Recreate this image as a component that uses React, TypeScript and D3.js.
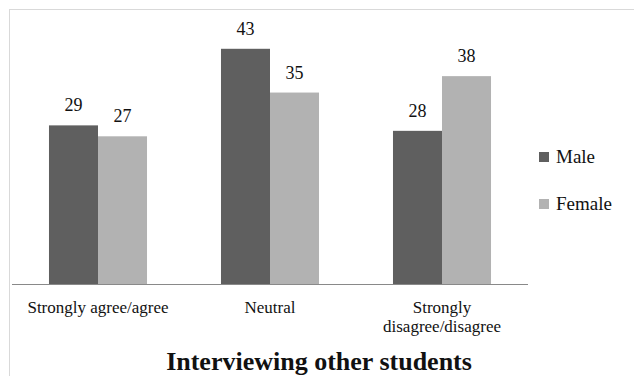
import * as d3 from "d3";

const WIDTH = 634;
const HEIGHT = 376;
const MARGIN = { top: 10.5, right: 106, bottom: 92, left: 12 };

const categories = ["Strongly agree/agree", "Neutral", "Strongly disagree/disagree"];
const categoryLines = [["Strongly agree/agree"], ["Neutral"], ["Strongly", "disagree/disagree"]];
const seriesNames = ["Male", "Female"];
const maleValues = [29, 43, 28];
const femaleValues = [27, 35, 38];
const colors = ["#5f5f5f", "#b2b2b2"];
const title = "Interviewing other students";

const FONT = "Liberation Serif";

export default function App() {
  const boundsWidth = WIDTH - MARGIN.left - MARGIN.right;
  const boundsHeight = HEIGHT - MARGIN.top - MARGIN.bottom;

  const xScale = d3.scaleBand<string>().domain(categories).range([0, boundsWidth]).paddingInner(0.43).paddingOuter(0.215);
  const xSub = d3.scaleBand<string>().domain(seriesNames).range([0, xScale.bandwidth()]);
  const yScale = d3.scaleLinear().domain([0, 50]).range([boundsHeight, 0]);

  const series = [maleValues, femaleValues];

  const bars = categories.flatMap((cat, i) =>
    seriesNames.map((s, j) => {
      const v = series[j][i];
      const x = (xScale(cat) ?? 0) + (xSub(s) ?? 0);
      const y = yScale(v);
      return (
        <g key={cat + s}>
          <rect x={x} y={y} width={xSub.bandwidth()} height={boundsHeight - y} fill={colors[j]} />
          <text x={x + xSub.bandwidth() / 2} y={y - 14} textAnchor="middle" fontSize={18} fontFamily={FONT} fill="#111">
            {v}
          </text>
        </g>
      );
    })
  );

  const labels = categories.map((cat, i) => (
    <text key={cat} textAnchor="middle" fontSize={17} fontFamily={FONT} fill="#111">
      {categoryLines[i].map((line, k) => (
        <tspan key={k} x={(xScale(cat) ?? 0) + xScale.bandwidth() / 2} y={boundsHeight + 29 + k * 19}>
          {line}
        </tspan>
      ))}
    </text>
  ));

  return (
    <div style={{ position: "absolute", left: 0, top: 0 }}>
      <svg width={WIDTH} height={HEIGHT}>
        <rect x={0} y={0} width={WIDTH} height={HEIGHT} fill="#fff" />
        <rect x={9.5} y={9.5} width={WIDTH} height={HEIGHT} fill="none" stroke="#d9d9d9" />
        <g transform={`translate(${MARGIN.left},${MARGIN.top})`}>
          {bars}
          <line x1={0} x2={boundsWidth} y1={boundsHeight + 0.5} y2={boundsHeight + 0.5} stroke="#898989" strokeWidth={1.2} />
          {labels}
        </g>
        {seriesNames.map((s, j) => (
          <g key={s} transform={`translate(539,${152 + j * 47})`}>
            <rect width={10} height={10} fill={colors[j]} />
            <text x={17} y={11} fontSize={19} fontFamily={FONT} fill="#111">
              {s}
            </text>
          </g>
        ))}
        <text x={319} y={370} textAnchor="middle" fontSize={26} fontWeight="bold" fontFamily={FONT} fill="#111">
          {title}
        </text>
      </svg>
    </div>
  );
}
